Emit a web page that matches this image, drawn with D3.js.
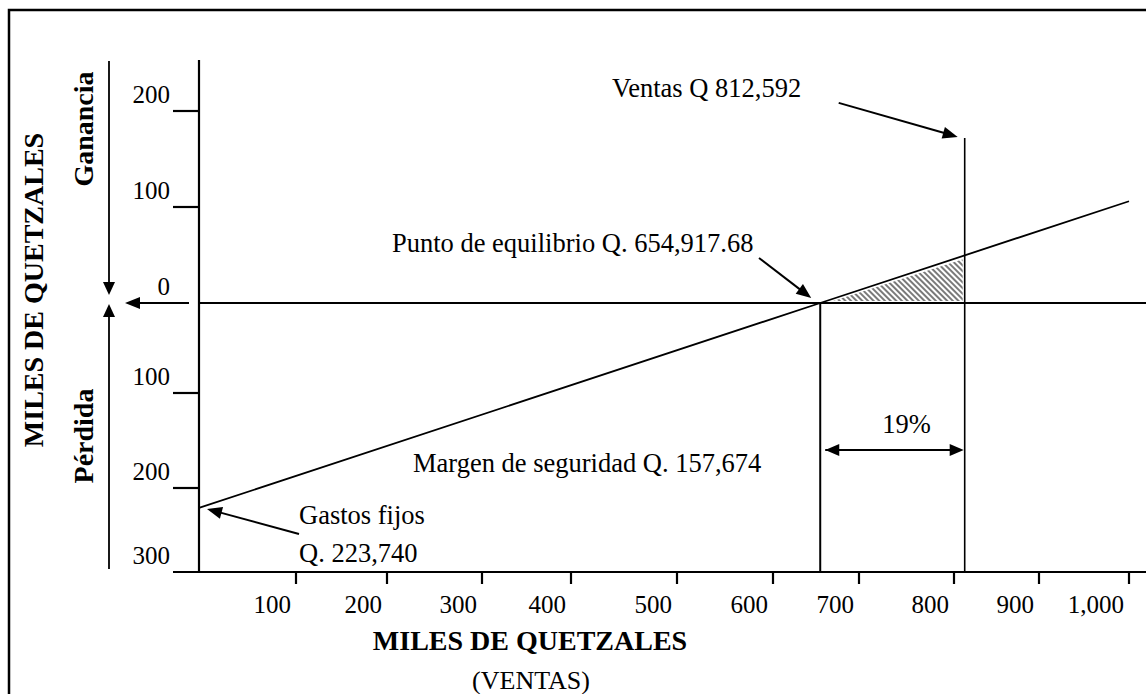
<!DOCTYPE html>
<html>
<head>
<meta charset="utf-8">
<script src="https://cdn.jsdelivr.net/npm/d3@7/dist/d3.min.js"></script>
<style>
  html, body { margin: 0; padding: 0; background: #fff; }
  svg { display: block; }
  text { font-family: "Liberation Serif", "Times New Roman", serif; fill: #000; }
</style>
</head>
<body>
<svg id="chart" width="1146" height="694"></svg>
<script>
// ---- Data (miles de quetzales) ----
const X_TICKS = [100, 200, 300, 400, 500, 600, 700, 800, 900, 1000];
const X_TICK_LABELS = ["100", "200", "300", "400", "500", "600", "700", "800", "900", "1,000"];
const Y_TICKS = [200, 100, 0, -100, -200, -300];
const Y_TICK_LABELS = ["200", "100", "0", "100", "200", "300"];

// Resultado (ganancia / pérdida) según el nivel de ventas
const RESULT_SALES = [0, 654.91768, 1000];
const RESULT_VALUE = [-223.74, 0, 106];

const FIXED_COSTS = 223.74;
const BREAK_EVEN = 654.91768;
const SALES = 812.592;
const SALES_MARK_TOP = 172;
const SAFETY_MARGIN = 157.674;
const SAFETY_PCT = 19;

const TEXTS = {
  sales: "Ventas Q 812,592",
  breakEven: "Punto de equilibrio Q. 654,917.68",
  margin: "Margen de seguridad Q. 157,674",
  fixed1: "Gastos fijos",
  fixed2: "Q. 223,740",
  pct: SAFETY_PCT + "%",
  yTitle: "MILES DE QUETZALES",
  gain: "Ganancia",
  loss: "Pérdida",
  xTitle: "MILES DE QUETZALES",
  xSub: "(VENTAS)"
};

// ---- Layout ----
const W = 1146, H = 694;
// hand-spaced axis stops of the sheet (value -> pixel)
const X_STOP_VALUES = [0, 100, 200, 300, 400, 500, 600, 700, 800, 900, 1000];
const X_STOP_PX = [199, 296, 387, 482, 571, 677, 773, 859, 954, 1039, 1129];
const Y_STOP_VALUES = [-300, -200, -100, 0, 100, 200];
const Y_STOP_PX = [572, 488, 393, 303, 207, 111];
const AXIS_TOP = 60;
const TICK_LEFT = 173;

const svg = d3.select("#chart");
const x = d3.scaleLinear().domain(X_STOP_VALUES).range(X_STOP_PX);
const y = d3.scaleLinear().domain(Y_STOP_VALUES).range(Y_STOP_PX);
const resultAt = d3.scaleLinear().domain(RESULT_SALES).range(RESULT_VALUE);

const serif = '"Liberation Serif", "Times New Roman", serif';

// hatch for the profit wedge
const defs = svg.append("defs");
defs.append("pattern")
  .attr("id", "hatch")
  .attr("patternUnits", "userSpaceOnUse")
  .attr("width", 4).attr("height", 4)
  .attr("patternTransform", "rotate(-45)")
  .append("rect")
  .attr("x", 0).attr("y", 0).attr("width", 2).attr("height", 4)
  .attr("fill", "#7a7a7a");

// frame
svg.append("rect")
  .attr("x", 9).attr("y", 10)
  .attr("width", W + 20).attr("height", H + 20)
  .attr("fill", "none").attr("stroke", "#000").attr("stroke-width", 2.5);

function arrowHead(g, x1, y1, x2, y2, len = 15, half = 6) {
  const a = Math.atan2(y2 - y1, x2 - x1);
  const bx = x2 - len * Math.cos(a), by = y2 - len * Math.sin(a);
  const px = -Math.sin(a) * half, py = Math.cos(a) * half;
  g.append("path")
    .attr("d", `M${x2},${y2}L${bx + px},${by + py}L${bx - px},${by - py}Z`)
    .attr("fill", "#000");
}
function arrow(x1, y1, x2, y2, opts = {}) {
  const g = svg.append("g");
  const len = opts.len || 15, half = opts.half || 6;
  const a = Math.atan2(y2 - y1, x2 - x1);
  g.append("line")
    .attr("x1", x1).attr("y1", y1)
    .attr("x2", x2 - (len - 2) * Math.cos(a)).attr("y2", y2 - (len - 2) * Math.sin(a))
    .attr("stroke", "#000").attr("stroke-width", opts.width || 2);
  arrowHead(g, x1, y1, x2, y2, len, half);
  if (opts.both) arrowHead(g, x2, y2, x1, y1, len, half);
  return g;
}

// profit wedge between break-even and current sales
const wedge = [
  [x(BREAK_EVEN), y(0)],
  [x(SALES), y(0)],
  [x(SALES), y(resultAt(SALES))]
];
svg.append("path")
  .attr("d", d3.line()(wedge) + "Z")
  .attr("fill", "url(#hatch)")
  .attr("stroke", "#fff").attr("stroke-width", 4).attr("stroke-linejoin", "miter");

// axes
svg.append("line")
  .attr("x1", x(0)).attr("x2", x(0))
  .attr("y1", AXIS_TOP).attr("y2", y(-300))
  .attr("stroke", "#000").attr("stroke-width", 2.2);
svg.append("line")
  .attr("x1", TICK_LEFT).attr("x2", W)
  .attr("y1", y(-300)).attr("y2", y(-300))
  .attr("stroke", "#000").attr("stroke-width", 2.2);
svg.append("line")
  .attr("x1", x(0)).attr("x2", W)
  .attr("y1", y(0)).attr("y2", y(0))
  .attr("stroke", "#000").attr("stroke-width", 2.2);

// y ticks (zero uses the arrow instead, bottom one is the x axis)
svg.append("g").selectAll("line")
  .data(Y_TICKS.filter(v => v !== 0 && v !== -300))
  .join("line")
  .attr("x1", TICK_LEFT).attr("x2", x(0))
  .attr("y1", d => y(d)).attr("y2", d => y(d))
  .attr("stroke", "#000").attr("stroke-width", 2.2);
svg.append("g").selectAll("text")
  .data(Y_TICKS)
  .join("text")
  .attr("x", 170)
  .attr("y", d => y(d) - 8)
  .attr("text-anchor", "end")
  .attr("font-size", 25)
  .text((d, i) => Y_TICK_LABELS[i]);

// x ticks
svg.append("g").selectAll("line")
  .data(X_TICKS)
  .join("line")
  .attr("x1", d => x(d)).attr("x2", d => x(d))
  .attr("y1", y(-300)).attr("y2", y(-300) + 12)
  .attr("stroke", "#000").attr("stroke-width", 2.2);
svg.append("g").selectAll("text")
  .data(X_TICKS)
  .join("text")
  .attr("x", d => x(d) - 5)
  .attr("y", y(-300) + 41)
  .attr("text-anchor", "end")
  .attr("font-size", 25)
  .text((d, i) => X_TICK_LABELS[i]);

// result line
svg.append("path")
  .attr("d", d3.line().x((d, i) => x(RESULT_SALES[i])).y(d => y(d))(RESULT_VALUE))
  .attr("fill", "none").attr("stroke", "#000").attr("stroke-width", 1.8);

// break-even and sales verticals
svg.append("line")
  .attr("x1", x(BREAK_EVEN)).attr("x2", x(BREAK_EVEN))
  .attr("y1", y(0)).attr("y2", y(-300))
  .attr("stroke", "#000").attr("stroke-width", 2);
svg.append("line")
  .attr("x1", x(SALES)).attr("x2", x(SALES))
  .attr("y1", y(SALES_MARK_TOP)).attr("y2", y(-300))
  .attr("stroke", "#000").attr("stroke-width", 1.6);

// annotations
function label(txt, tx, ty, opts = {}) {
  return svg.append("text")
    .attr("x", tx).attr("y", ty)
    .attr("text-anchor", opts.anchor || "start")
    .attr("font-size", opts.size || 26.5)
    .attr("font-weight", opts.bold ? "bold" : null)
    .text(txt);
}

label(TEXTS.sales, 612, 97);
arrow(x(SALES) - 126, y(SALES_MARK_TOP) - 35, x(SALES) - 7, y(SALES_MARK_TOP) - 1);

label(TEXTS.breakEven, 392, 252);
arrow(759, 258, x(BREAK_EVEN) - 9, y(0) - 5);

label(TEXTS.margin, 413, 472);

label(TEXTS.pct, (x(BREAK_EVEN) + x(SALES)) / 2 + 14, 433, { anchor: "middle" });
arrow(x(BREAK_EVEN) + 5, 450, x(SALES) - 1, 450, { both: true, len: 14, half: 6 });

label(TEXTS.fixed1, 299, 524);
label(TEXTS.fixed2, 299, 562);
arrow(299, 534, x(0) + 8, y(-FIXED_COSTS) + 1);

// zero marker and gain / loss arrows
arrow(189, y(0), 125, y(0), { len: 15, half: 6 });
arrow(109, 61, 109, 295, { len: 13, half: 6, width: 1.8 });
arrow(109, 569, 109, 304, { len: 13, half: 6, width: 1.8 });

// axis titles
svg.append("text")
  .attr("transform", `translate(43,290) rotate(-90)`)
  .attr("text-anchor", "middle").attr("font-size", 28).attr("font-weight", "bold")
  .text(TEXTS.yTitle);
svg.append("text")
  .attr("transform", `translate(93,129) rotate(-90)`)
  .attr("text-anchor", "middle").attr("font-size", 28).attr("font-weight", "bold")
  .text(TEXTS.gain);
svg.append("text")
  .attr("transform", `translate(93,436) rotate(-90)`)
  .attr("text-anchor", "middle").attr("font-size", 28).attr("font-weight", "bold")
  .text(TEXTS.loss);

label(TEXTS.xTitle, 530, 650, { anchor: "middle", size: 28, bold: true });
label(TEXTS.xSub, 531, 689, { anchor: "middle", size: 26 });
</script>
</body>
</html>
